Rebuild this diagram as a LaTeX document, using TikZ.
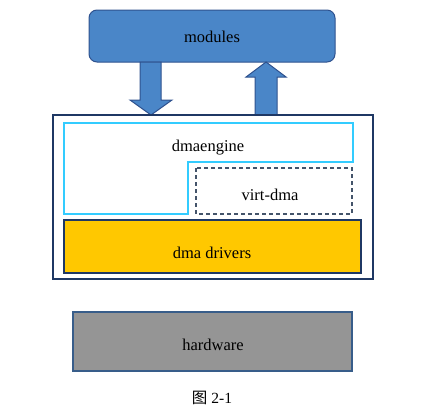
\documentclass[tikz,border=0pt]{standalone}
\usepackage{fontspec}
\setmainfont{Liberation Serif}
\newfontfamily\cjkfont{Noto Sans CJK SC}
\usetikzlibrary{positioning}
\definecolor{modblue}{HTML}{4A86C8}
\definecolor{modedge}{HTML}{2F528F}
\definecolor{frameedge}{HTML}{1F3864}
\definecolor{engcyan}{HTML}{33CCFF}
\definecolor{virtedge}{HTML}{44546A}
\definecolor{drvgold}{HTML}{FFC800}
\definecolor{hwgray}{HTML}{959595}
\definecolor{hwedge}{HTML}{385D8A}

\begin{document}
\begin{tikzpicture}[x=1pt,y=-1pt]
  \tikzset{
    lbl/.style={font=\fontsize{16.5}{18}\selectfont, inner sep=0pt},
    blockarrow/.style={fill=modblue, draw=modedge, line width=1pt},
  }
  \useasboundingbox (0,0) rectangle (425,415);
  % modules
  \draw[fill=modblue, draw=modedge, line width=1pt, rounded corners=8pt]
    (89,10) rectangle (335,62);
  \node[lbl] (modules) at (212,37) {modules};
  % arrows between modules and the dma layer
  \draw[blockarrow] (140,62) -- (161,62) -- (161,100) -- (172,100)
    -- (151,115) -- (130,100) -- (140,100) -- cycle;
  \draw[blockarrow] (255,115) -- (277,115) -- (277,77) -- (286,77)
    -- (266,62) -- (246,77) -- (255,77) -- cycle;
  % outer frame
  \draw[draw=frameedge, line width=1.1pt, fill=white] (53,115) rectangle (373,279);
  % dmaengine
  \draw[draw=engcyan, line width=1.3pt]
    (64,123) -- (353,123) -- (353,162) -- (188,162) -- (188,214) -- (64,214) -- cycle;
  \node[lbl] (engine) at (208,148) {dmaengine};
  % virt-dma
  \draw[draw=virtedge, dash pattern=on 4pt off 3pt, line width=1.1pt] (196,168) rectangle (352,214);
  \node[lbl] (virt) at (270,195) {virt-dma};
  % drivers
  \draw[fill=drvgold, draw=frameedge, line width=1.1pt] (64,220) rectangle (361,273);
  \node[lbl] (drivers) at (212,253) {dma drivers};
  % hardware
  \draw[fill=hwgray, draw=hwedge, line width=1.2pt] (73,312) rectangle (352,371);
  \node[lbl] (hw) at (213,345) {hardware};
  % caption
  \node[font=\fontsize{15.5}{17}\selectfont, inner sep=0pt] (cap) at (212,398) {{\cjkfont 图} 2-1};
\end{tikzpicture}
\end{document}
